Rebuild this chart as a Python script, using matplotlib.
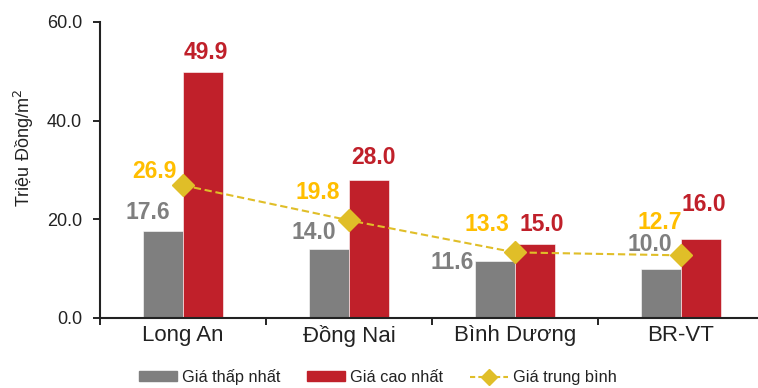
import matplotlib
matplotlib.use("Agg")
import matplotlib.pyplot as plt
import numpy as np
from matplotlib.lines import Line2D
from matplotlib.patches import Patch

plt.rcParams['font.family'] = ['Liberation Sans', 'DejaVu Sans']

categories = ["Long An", "Đồng Nai", "Bình Dương", "BR-VT"]
gia_thap = [17.6, 14.0, 11.6, 10.0]
gia_cao = [49.9, 28.0, 15.0, 16.0]
gia_tb = [26.9, 19.8, 13.3, 12.7]
yticks = [0, 20, 40, 60]

# label placement (layout only): offsets from category centre (x) and from value (y)
thap_lab_dx = [-0.21, -0.21, -0.38, -0.19]
thap_lab_dy = [3.7, 3.4, -0.25, 4.8]
cao_lab_dx = [0.14, 0.145, 0.16, 0.14]
cao_lab_dy = [4.0, 4.6, 3.9, 7.1]
tb_lab_dx = [-0.175, -0.19, -0.17, -0.13]
tb_lab_dy = [2.7, 5.7, 5.6, 6.6]

c_gray = "#7F7F7F"
c_red = "#C0202A"
c_line = "#E0BE28"
c_tb_lab = "#FFBE00"

fig = plt.figure(figsize=(7.58, 3.88), dpi=100)
ax = fig.add_axes([100/758, 1-318/388, 664/758, (318-22)/388])

x = np.arange(len(categories))
w = 0.24
ax.bar(x - w/2, gia_thap, width=w, color=c_gray, edgecolor='white', linewidth=0.4)
ax.bar(x + w/2, gia_cao, width=w, color=c_red, edgecolor='white', linewidth=0.4)
ax.plot(x, gia_tb, color=c_line, linestyle=(0, (3.5, 1.8)), linewidth=1.5,
        marker='D', markersize=11, markerfacecolor=c_line, markeredgecolor=c_line, zorder=3)

fs_lab = 16.5
for i in range(len(categories)):
    ax.text(x[i] + thap_lab_dx[i], gia_thap[i] + thap_lab_dy[i], f"{gia_thap[i]:.1f}",
            ha='center', va='center', color=c_gray, fontsize=fs_lab, fontweight='bold')
    ax.text(x[i] + cao_lab_dx[i], gia_cao[i] + cao_lab_dy[i], f"{gia_cao[i]:.1f}",
            ha='center', va='center', color=c_red, fontsize=fs_lab, fontweight='bold')
    ax.text(x[i] + tb_lab_dx[i], gia_tb[i] + tb_lab_dy[i], f"{gia_tb[i]:.1f}",
            ha='center', va='center', color=c_tb_lab, fontsize=fs_lab, fontweight='bold')

ax.set_xlim(-0.5, len(categories) - 0.5)
ax.set_ylim(0, 60)
ax.set_yticks(yticks)
ax.set_yticklabels([f"{v:.1f}" for v in yticks], fontsize=13, color='#222222')
ax.set_xticks(np.arange(len(categories) + 1) - 0.5)
ax.set_xticklabels([])
ax.set_xticks(x, minor=True)
ax.set_xticklabels(categories, minor=True, fontsize=16, color='#222222')
ax.tick_params(axis='x', which='minor', length=0, pad=5)
ax.tick_params(axis='x', which='major', length=5, width=1.2, direction='out')
ax.tick_params(axis='y', length=5, width=1.2, direction='out', pad=8)
for s in ['top', 'right']:
    ax.spines[s].set_visible(False)
for s in ['left', 'bottom']:
    ax.spines[s].set_linewidth(1.5)
    ax.spines[s].set_color('#222222')
ax.set_ylabel("Triệu Đồng/m$^2$", fontsize=13, labelpad=8, color='#222222', y=0.575)

handles = [Patch(color=c_gray), Patch(color=c_red),
           Line2D([0], [0], color=c_line, linestyle=(0, (2.5, 1.5)), linewidth=1.5, marker='D',
                  markersize=8, markerfacecolor=c_line, markeredgecolor=c_line)]
leg = fig.legend(handles, ["Giá thấp nhất", "Giá cao nhất", "Giá trung bình"], loc='center',
                 bbox_to_anchor=(378/758, 1-377/388), ncol=3, frameon=False, fontsize=11.8,
                 handlelength=2.3, handleheight=0.55, columnspacing=1.65, handletextpad=0.3,
                 labelcolor='#222222')

fig.savefig("out.png", dpi=100)
